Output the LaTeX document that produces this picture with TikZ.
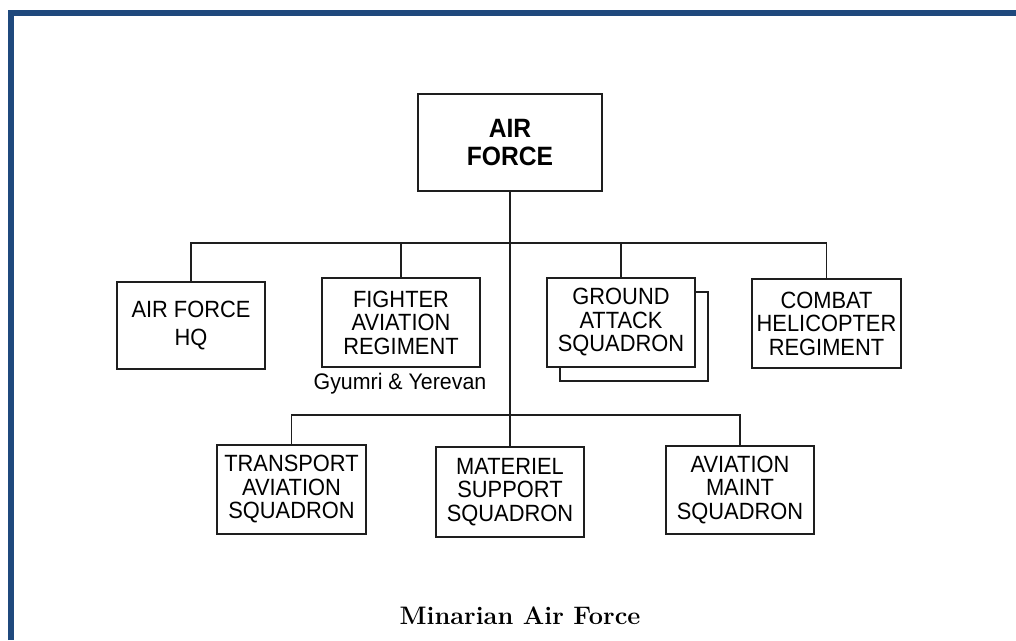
\documentclass[tikz,border=0pt]{standalone}
\usepackage{fontspec}
\newfontfamily\boxfont[FakeStretch=0.93]{Liberation Sans}
\newfontfamily\locfont[FakeStretch=0.95]{Liberation Sans}
\definecolor{framecol}{RGB}{31,73,125}
\definecolor{linecol}{RGB}{30,30,30}
\begin{document}
\begin{tikzpicture}[x=1pt,y=-1pt,
  unitbox/.style={draw=linecol,line width=1.5pt,fill=white,inner sep=0pt,align=center,
    font=\boxfont\fontsize{23.5}{23.5}\selectfont},
  conn/.style={draw=linecol,line width=1.3pt}]
\useasboundingbox (0,0) rectangle (1016,640);
\fill[white] (0,0) rectangle (1016,640);
% frame
\draw[framecol,line width=5.5pt,line join=miter] (10.8,640) -- (10.8,12.8) -- (1016,12.8);
% top node
\node[unitbox,minimum width=184pt,minimum height=97pt,font=\boxfont\bfseries\fontsize{26.5}{28}\selectfont] (af) at (510,142.5) {AIR\\FORCE};
% row 1
\node[unitbox,minimum width=148pt,minimum height=87pt,font=\boxfont\fontsize{23.5}{28}\selectfont] (hq) at (191,325.5) {AIR FORCE\\HQ};
\node[unitbox,minimum width=158pt,minimum height=89pt] (fa) at (401,322.5) {FIGHTER\\AVIATION\\REGIMENT};
\node[unitbox,minimum width=148pt,minimum height=89pt] (gab) at (634,336.5) {};
\node[unitbox,minimum width=148pt,minimum height=89pt] (ga) at (621,322.5) {GROUND\\ATTACK\\SQUADRON};
\node[unitbox,minimum width=149pt,minimum height=89pt] (ch) at (826.5,323.5) {COMBAT\\HELICOPTER\\REGIMENT};
\node[font=\locfont\fontsize{22.5}{24}\selectfont,inner sep=0pt,anchor=base] (loc) at (400,389) {Gyumri \& Yerevan};
% row 2
\node[unitbox,minimum width=149pt,minimum height=89pt] (ta) at (291.5,489.5) {TRANSPORT\\AVIATION\\SQUADRON};
\node[unitbox,minimum width=148pt,minimum height=90pt] (ms) at (510,492) {MATERIEL\\SUPPORT\\SQUADRON};
\node[unitbox,minimum width=148pt,minimum height=88pt] (am) at (740,490) {AVIATION\\MAINT\\SQUADRON};
% buses
\coordinate (bus) at (510,243);
\coordinate (lbus) at (510,415);
\draw[conn] (af.south) -- (ms.north);
\draw[conn] (hq.north) -- (hq.north |- bus) -- (ch.north |- bus) -- (ch.north);
\draw[conn] (fa.north) -- (fa.north |- bus);
\draw[conn] (ga.north) -- (ga.north |- bus);
\draw[conn] (ta.north) -- (ta.north |- lbus) -- (am.north |- lbus) -- (am.north);
% caption
\node[font=\bfseries\fontsize{25.3}{28}\selectfont,inner sep=0pt,anchor=base] (cap) at (520,624) {Minarian Air Force};
\end{tikzpicture}
\end{document}
